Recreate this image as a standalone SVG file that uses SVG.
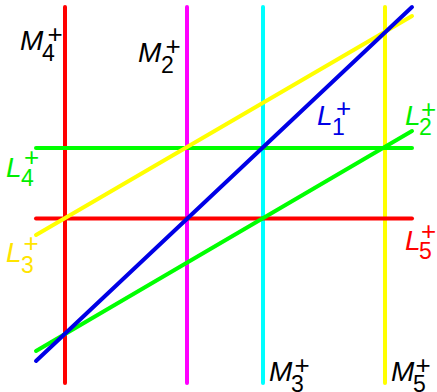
<svg xmlns="http://www.w3.org/2000/svg" width="437" height="392" viewBox="0 0 437 392">
<style>
.ln{fill:none;stroke-width:4;stroke-linecap:round}
text{font-family:"Liberation Sans",Arial,sans-serif}
.v{font-style:italic;font-size:28px}
.s{font-size:23px}
.p{font-size:26px;text-anchor:middle}
</style>
<rect width="437" height="392" fill="#ffffff"/>
<g id="connectors">
<line class="ln" x1="65" y1="7" x2="65" y2="383" stroke="#ff0000"/>
<line class="ln" x1="187" y1="7" x2="187" y2="383" stroke="#ff00ff"/>
<line class="ln" x1="263" y1="7" x2="263" y2="383" stroke="#00ffff"/>
<line class="ln" x1="385" y1="7" x2="385" y2="383" stroke="#ffff00"/>
<line class="ln" x1="36" y1="148" x2="412" y2="148" stroke="#00ff00"/>
<line class="ln" x1="36" y1="218.5" x2="412" y2="218.5" stroke="#ff0000"/>
<line class="ln" x1="36" y1="235" x2="412" y2="16" stroke="#ffff00"/>
<line class="ln" x1="36" y1="351" x2="412" y2="131" stroke="#00ff00"/>
<line class="ln" x1="36" y1="361" x2="412" y2="7" stroke="#0000e6"/>
</g>
<g id="M4" fill="#000000"><text class="v" x="20" y="50">M</text><text class="s" x="42" y="61">4</text><text class="p" x="55" y="42.5">+</text></g>
<g id="M2" fill="#000000"><text class="v" x="138" y="62">M</text><text class="s" x="161" y="73">2</text><text class="p" x="173" y="54.5">+</text></g>
<g id="M3" fill="#000000"><text class="v" x="269" y="381">M</text><text class="s" x="291" y="392">3</text><text class="p" x="302" y="374">+</text></g>
<g id="M5" fill="#000000"><text class="v" x="391" y="381">M</text><text class="s" x="413" y="392">5</text><text class="p" x="423" y="374">+</text></g>
<g id="L4" fill="#00ee00"><text class="v" x="6" y="177">L</text><text class="s" x="21" y="186">4</text><text class="p" x="31.5" y="165.5">+</text></g>
<g id="L3" fill="#ffe400"><text class="v" x="6" y="262">L</text><text class="s" x="21" y="273">3</text><text class="p" x="31" y="252">+</text></g>
<g id="L1" fill="#0000e6"><text class="v" x="317" y="125">L</text><text class="s" x="332" y="135">1</text><text class="p" x="343.5" y="117">+</text></g>
<g id="L2" fill="#00ee00"><text class="v" x="405" y="125">L</text><text class="s" x="419" y="135">2</text><text class="p" x="428.5" y="117.5">+</text></g>
<g id="L5" fill="#ff0000"><text class="v" x="405" y="250">L</text><text class="s" x="419" y="259">5</text><text class="p" x="428.5" y="240">+</text></g>
</svg>
